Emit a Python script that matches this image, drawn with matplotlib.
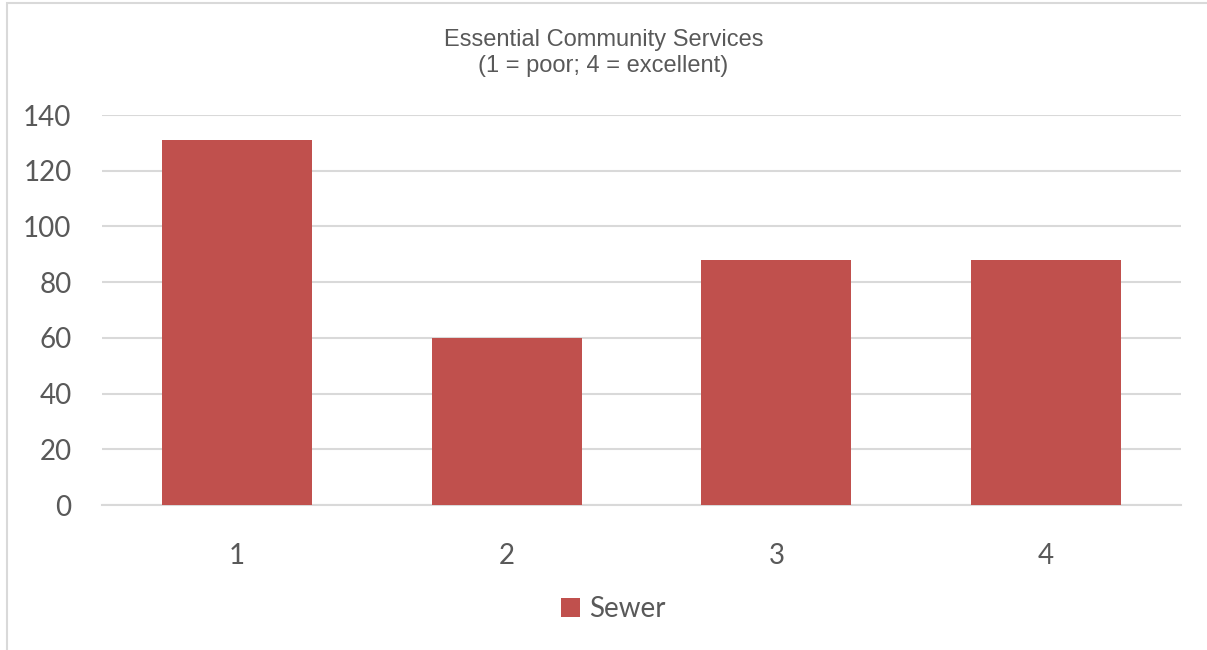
import numpy as np
import matplotlib.pyplot as plt
from matplotlib.patches import Rectangle

categories = ["1", "2", "3", "4"]
sewer = [131, 60, 88, 88]
yticks = [0, 20, 40, 60, 80, 100, 120, 140]

bar_color = "#C0504D"
text_color = "#595959"
grid_color = "#D9D9D9"

fig = plt.figure(figsize=(12.07, 6.5), dpi=100)
ax = fig.add_axes([102/1207, 1-505/650, (1181-102)/1207, 390/650])

x = np.arange(len(categories))
ax.bar(x, sewer, width=0.556, color=bar_color, label="Sewer", zorder=3)

ax.set_xlim(-0.5, 3.5)
ax.set_ylim(0, 140)
ax.set_yticks(yticks)
ax.set_xticks(x)
ax.set_xticklabels(categories)
ax.grid(axis="y", color=grid_color, linewidth=1.5, zorder=0)
for s in ["top", "right", "left"]:
    ax.spines[s].set_visible(False)
ax.spines["bottom"].set_color(grid_color)
ax.spines["bottom"].set_linewidth(1.5)
ax.tick_params(axis="both", length=0, colors=text_color, labelsize=20)
ax.tick_params(axis="y", pad=22)
ax.tick_params(axis="x", pad=27)
for lab in ax.get_xticklabels() + ax.get_yticklabels():
    lab.set_family("Lato")

# chart title, two lines
fig.text(0.5, 1-53/650, "Essential Community Services\n(1 = poor; 4 = excellent)",
         ha="center", va="center", fontsize=17, color=text_color,
         family="Liberation Sans", linespacing=1.2)

leg = fig.legend(loc="center", bbox_to_anchor=(613/1207, 1-609/650), frameon=False,
                 prop={"family": "Lato", "size": 20}, handlelength=0.7, handleheight=0.7,
                 handletextpad=0.3)
for t in leg.get_texts():
    t.set_color(text_color)

# chart area border (right and bottom edges fall outside the image)
fig.patches.append(Rectangle((7/1207, -0.1), 1.2, 1.1-3/650, transform=fig.transFigure,
                             fill=False, edgecolor=grid_color, linewidth=1.5))

fig.savefig("out.png", dpi=100)
